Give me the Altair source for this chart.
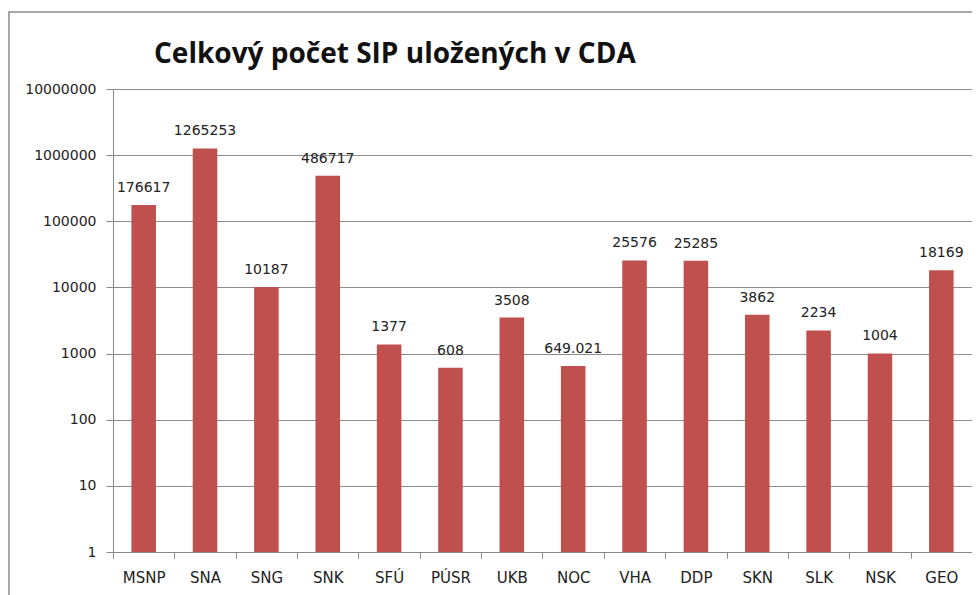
import altair as alt
import pandas as pd

categories = ["MSNP", "SNA", "SNG", "SNK", "SFÚ", "PÚSR", "UKB", "ŠVK",
              "NOC", "VHA", "DDP", "SKN", "SLK", "NSK", "GEO"]
values = [176617, 1265253, 10187, 486717, 1377, 608, 3508, None,
          649.021, 25576, 25285, 3862, 2234, 1004, 18169]
value_labels = ["176617", "1265253", "10187", "486717", "1377", "608", "3508", "",
                "649.021", "25576", "25285", "3862", "2234", "1004", "18169"]
y_ticks = [1, 10, 100, 1000, 10000, 100000, 1000000, 10000000]
title_text = "Celkový počet SIP uložených v CDA"

df = pd.DataFrame({"cat": categories, "value": values, "label": value_labels})

FONT = "DejaVu Sans"
TFONT = "Open Sans"
W, H = 859, 463

x_enc = alt.X("cat:N", sort=categories, title=None,
              scale=alt.Scale(paddingInner=0, paddingOuter=0),
              axis=alt.Axis(labelAngle=0, tickBand="extent", tickSize=6,
                            tickColor="#888888", domainColor="#888888",
                            labelFont=FONT, labelFontSize=15, labelColor="#222222",
                            labelPadding=12, grid=False))
y_scale = alt.Scale(type="log", domain=[1, 10000000], nice=False)

frame = alt.Chart(pd.DataFrame({"a": [0]})).mark_rect(
    fill=None, stroke="#8a8a8a", strokeWidth=1.5
).encode(x=alt.value(-104), x2=alt.value(W + 20),
         y=alt.value(-77), y2=alt.value(H + 60))

bars = alt.Chart(df).transform_filter("isValid(datum.value)").mark_bar(
    color="#C0504D", width=alt.RelativeBandSize(0.4)
).encode(
    x=x_enc,
    y=alt.Y("value:Q", scale=y_scale, title=None, stack=None,
            axis=alt.Axis(values=y_ticks, format="d", tickSize=7,
                          tickColor="#888888", domainColor="#888888",
                          gridColor="#8c8c8c", gridWidth=1,
                          labelFont=FONT, labelFontSize=14, labelColor="#222222",
                          labelPadding=10)),
)

labels = alt.Chart(df).transform_filter("isValid(datum.value)").mark_text(
    baseline="bottom", dy=-10, font=FONT, fontSize=14, color="#222222"
).encode(
    x=alt.X("cat:N", sort=categories),
    y=alt.Y("value:Q", scale=y_scale, stack=None),
    text="label:N",
)

chart = alt.layer(frame, bars, labels).properties(
    width=W, height=H,
    autosize=alt.AutoSizeParams(type="none"),
    padding={"left": 105, "top": 81, "right": 0, "bottom": 43},
    title=alt.TitleParams(title_text, anchor="start", frame="group", dx=41,
                          offset=20, dy=78, font=TFONT, fontSize=28,
                          fontWeight="bold", color="#111111"),
).configure_view(stroke=None)

chart.save("out.html", embed_options={"renderer": "svg", "actions": False})
